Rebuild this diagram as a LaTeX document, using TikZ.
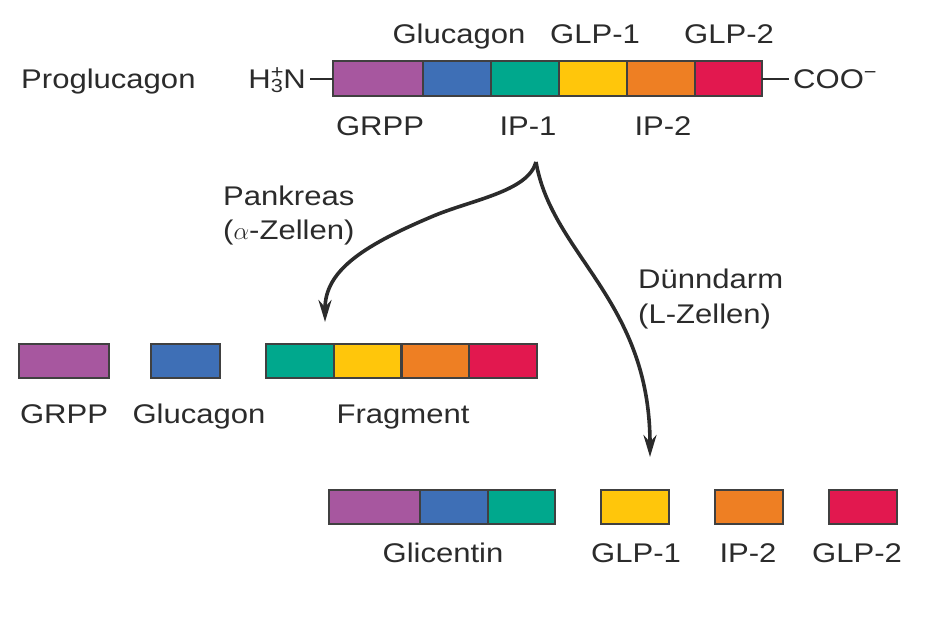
\documentclass[tikz,border=0pt]{standalone}
\usepackage{fontspec}
\setmainfont{Liberation Sans}[FakeStretch=1.15]
\usetikzlibrary{arrows.meta}
\definecolor{cgrpp}{HTML}{A7579F}
\definecolor{cgluc}{HTML}{3E6FB6}
\definecolor{cip}{HTML}{00A88D}
\definecolor{cglpa}{HTML}{FFC60B}
\definecolor{cipb}{HTML}{EE7F23}
\definecolor{cglpb}{HTML}{E2184F}
\definecolor{txt}{HTML}{2B2B2B}
\tikzset{
  seg/.style={draw=txt!90, line width=2pt, inner sep=0pt, outer sep=0pt, minimum height=34pt},
  lbl/.style={text=txt, inner sep=0pt, font=\fontsize{27}{32}\selectfont},
  flow/.style={draw=txt, line width=3.6pt, -{Stealth[length=22pt,width=13pt]}},
}
\begin{document}
\begin{tikzpicture}[x=1pt,y=-1pt]
\useasboundingbox (0,0) rectangle (936,621);
% ---- top proglucagon bar
\node[seg, fill=cgrpp, minimum width=90pt, minimum height=35pt] (t1) at (378,78.5) {};
\node[seg, fill=cgluc, minimum width=68pt, minimum height=35pt] (t2) at (457,78.5) {};
\node[seg, fill=cip,   minimum width=68pt, minimum height=35pt] (t3) at (525,78.5) {};
\node[seg, fill=cglpa, minimum width=68pt, minimum height=35pt] (t4) at (593,78.5) {};
\node[seg, fill=cipb,  minimum width=68pt, minimum height=35pt] (t5) at (661,78.5) {};
\node[seg, fill=cglpb, minimum width=67pt, minimum height=35pt] (t6) at (728.5,78.5) {};
\node[lbl, anchor=base west] (pro) at (21,88) {Proglucagon};
\node[lbl, anchor=base east] (nterm) at (306,88) {H\rlap{\textsuperscript{+}}\textsubscript{3}N};
\node[lbl, anchor=base west] (cterm) at (793,88) {COO\textsuperscript{−}};
\draw[txt, line width=2pt] ([xshift=4pt]nterm.east |- t1.west) -- (t1.west);
\draw[txt, line width=2pt] (t6.east) -- ([xshift=-4pt]cterm.west |- t6.east);
\node[lbl, anchor=base] (lgluc) at (459,43) {Glucagon};
\node[lbl, anchor=base] (lglp1) at (595,43) {GLP-1};
\node[lbl, anchor=base] (lglp2) at (729,43) {GLP-2};
\node[lbl, anchor=base] (lgrpp) at (380,135) {GRPP};
\node[lbl, anchor=base] (lip1) at (528,135) {IP-1};
\node[lbl, anchor=base] (lip2) at (663,135) {IP-2};
% ---- pancreas products
\node[seg, fill=cgrpp, minimum width=90pt] (m1) at (64,361) {};
\node[seg, fill=cgluc, minimum width=69pt] (m2) at (185.5,361) {};
\node[seg, fill=cip,   minimum width=67.75pt] (m3) at (299.9,361) {};
\node[seg, fill=cglpa, minimum width=67.75pt] (m4) at (367.6,361) {};
\node[seg, fill=cipb,  minimum width=67.75pt] (m5) at (435.4,361) {};
\node[seg, fill=cglpb, minimum width=67.75pt] (m6) at (503.1,361) {};
\node[lbl, anchor=base] (mgrpp) at (64,423) {GRPP};
\node[lbl, anchor=base] (mgluc) at (199,423) {Glucagon};
\node[lbl, anchor=base] (mfrag) at (403,423) {Fragment};
% ---- intestine products
\node[seg, fill=cgrpp, minimum width=91pt] (b1) at (374.5,507) {};
\node[seg, fill=cgluc, minimum width=68pt] (b2) at (454,507) {};
\node[seg, fill=cip,   minimum width=67pt] (b3) at (521.5,507) {};
\node[seg, fill=cglpa, minimum width=68pt] (b4) at (635,507) {};
\node[seg, fill=cipb,  minimum width=68pt] (b5) at (749,507) {};
\node[seg, fill=cglpb, minimum width=68pt] (b6) at (863,507) {};
\node[lbl, anchor=base] (bglic) at (443,562) {Glicentin};
\node[lbl, anchor=base] (bglp1) at (636,562) {GLP-1};
\node[lbl, anchor=base] (bip2) at (748,562) {IP-2};
\node[lbl, anchor=base] (bglp2) at (857,562) {GLP-2};
% ---- processing arrows
\coordinate (split) at (536,162);
\coordinate (pend) at (325,322);
\coordinate (dend) at (650,457);
\draw[flow] (split) .. controls (528,192) and (470,200) .. (431,217)
                    .. controls (360,247) and (325,272) .. (pend);
\draw[flow] (split) .. controls (552,255) and (650,300) .. (dend);
\node[lbl, anchor=base west, align=left] (pank) at (223,205) {Pankreas};
\node[lbl, anchor=base west] (pankz) at (223,239) {($\alpha$-Zellen)};
\node[lbl, anchor=base west] (duen) at (638,288) {Dünndarm};
\node[lbl, anchor=base west] (duenz) at (638,323) {(L-Zellen)};
\end{tikzpicture}
\end{document}
